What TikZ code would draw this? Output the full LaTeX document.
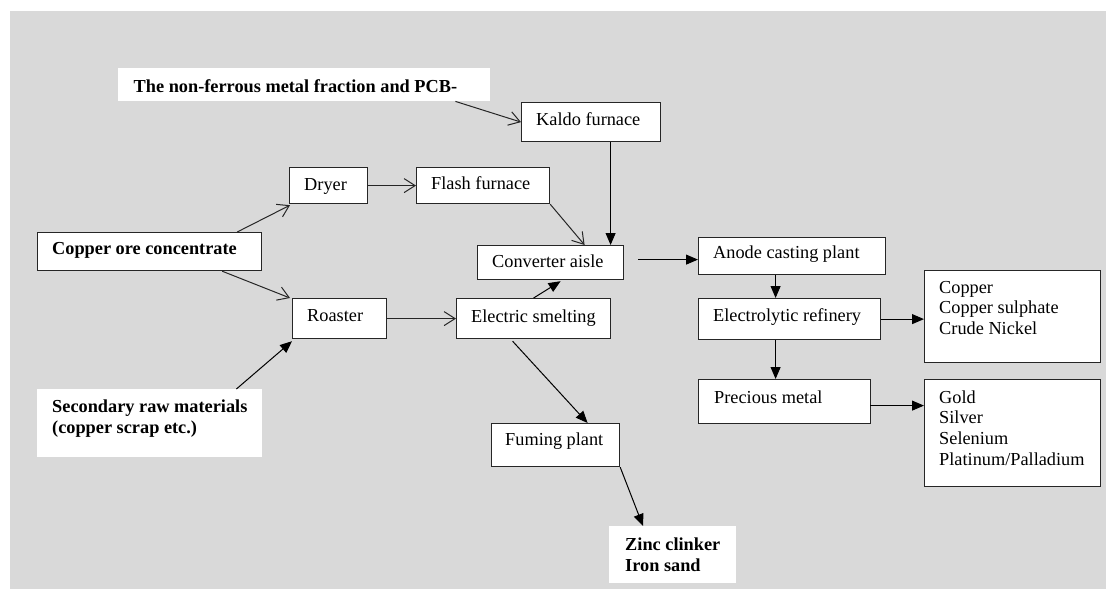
\documentclass[tikz,border=0pt]{standalone}
\usepackage{fontspec}
\setmainfont{Liberation Serif}
\usetikzlibrary{arrows.meta,calc}
\definecolor{panel}{HTML}{D9D9D9}
\definecolor{edge}{HTML}{262626}
\tikzset{
  frame/.style={draw=edge, line width=1.2pt, fill=white, inner sep=0pt, anchor=north west},
  plain/.style={fill=white, inner sep=0pt, anchor=north west},
  txt/.style={inner sep=0pt, anchor=base west, align=left, text=black,
    font=\fontsize{18.3}{20.6}\selectfont},
  btxt/.style={txt, font=\fontsize{18.3}{20.2}\selectfont\bfseries},
  flow/.style={draw=edge, line width=1pt, -{Straight Barb[length=11pt,width=14pt]}},
  feed/.style={draw=black, line width=1pt, -{Triangle[length=12pt,width=10pt]}},
}
\begin{document}
\begin{tikzpicture}[x=1pt, y=-1pt]
  \useasboundingbox (0,0) rectangle (1106,589);
  \fill[panel] (10,11) rectangle (1106,589);

  % ---- inputs (the base of a multi-line label is its last line) ----
  \node[plain, minimum width=372pt, minimum height=33pt] (nf) at (118,68) {};
  \node[btxt] (nf-t) at ($(nf.north west)+(15.5,24)$) {The non-ferrous metal fraction and PCB-};

  \node[frame, minimum width=224pt, minimum height=38pt] (ore) at (37,232) {};
  \node[btxt] (ore-t) at ($(ore.west)+(15,3)$) {Copper ore concentrate};

  \node[plain, minimum width=225pt, minimum height=68pt] (sec) at (37,389) {};
  \node[btxt] (sec-t) at ($(sec.north west)+(15,44)$) {Secondary raw materials\\(copper scrap etc.)};

  % ---- process units ----
  \node[frame, minimum width=139pt, minimum height=39pt] (kaldo) at (521,102) {};
  \node[txt] (kaldo-t) at ($(kaldo.west)+(15,3.5)$) {Kaldo furnace};

  \node[frame, minimum width=78pt, minimum height=36pt] (dryer) at (289,167) {};
  \node[txt] (dryer-t) at ($(dryer.west)+(15,5)$) {Dryer};

  \node[frame, minimum width=133pt, minimum height=36pt] (flash) at (416,167) {};
  \node[txt] (flash-t) at ($(flash.west)+(15,4)$) {Flash furnace};

  \node[frame, minimum width=146pt, minimum height=34pt] (conv) at (477,245) {};
  \node[txt] (conv-t) at ($(conv.west)+(15,5)$) {Converter aisle};

  \node[frame, minimum width=94pt, minimum height=40pt] (roaster) at (292,298) {};
  \node[txt] (roaster-t) at ($(roaster.west)+(15,2.7)$) {Roaster};

  \node[frame, minimum width=154pt, minimum height=40pt] (elec) at (456,298) {};
  \node[txt] (elec-t) at ($(elec.west)+(15,3.7)$) {Electric smelting};

  \node[frame, minimum width=128pt, minimum height=43pt] (fum) at (491,423) {};
  \node[txt] (fum-t) at ($(fum.west)+(14,0.5)$) {Fuming plant};

  \node[plain, minimum width=127pt, minimum height=57pt] (zinc) at (609,526) {};
  \node[btxt] (zinc-t) at ($(zinc.north west)+(16,45)$) {Zinc clinker\\Iron sand};

  \node[frame, minimum width=187pt, minimum height=37pt] (anode) at (698,237) {};
  \node[txt] (anode-t) at ($(anode.west)+(15,2.5)$) {Anode casting plant};

  \node[frame, minimum width=182pt, minimum height=41pt] (refin) at (698,298) {};
  \node[txt] (refin-t) at ($(refin.west)+(15,2.2)$) {Electrolytic refinery};

  \node[frame, minimum width=172pt, minimum height=44pt] (prec) at (698,379) {};
  \node[txt] (prec-t) at ($(prec.west)+(16,2)$) {Precious metal};

  % ---- products ----
  \node[frame, minimum width=176pt, minimum height=92pt] (cuout) at (924,270) {};
  \node[txt] (cuout-t) at ($(cuout.north west)+(15,64.5)$) {Copper\\Copper sulphate\\Crude Nickel};

  \node[frame, minimum width=176pt, minimum height=107pt] (auout) at (924,379) {};
  \node[txt] (auout-t) at ($(auout.north west)+(15,86)$) {Gold\\Silver\\Selenium\\Platinum/Palladium};

  % ---- connector end points ----
  \coordinate (k1) at ($(kaldo.south)+(19.5,0)$);
  \coordinate (a1) at ($(anode.south)+(-16.5,0)$);
  \coordinate (r1) at ($(refin.south)+(-14,0)$);
  \coordinate (p1) at ($(prec.east)+(-1,4)$);

  % ---- connectors ----
  \draw[flow] ($(nf.south east)+(-35,0)$) -- (kaldo.west);
  \draw[feed] (k1) -- (k1 |- conv.north);
  \draw[flow] (flash.south east) -- ($(conv.north)+(34,0)$);
  \draw[flow] (dryer.east) -- (flash.west);
  \draw[flow] ($(ore.north east)+(-25,0)$) -- ($(dryer.south west)+(1,1)$);
  \draw[flow] ($(ore.south east)+(-40,0)$) -- ($(roaster.north west)+(-2,0)$);
  \draw[feed] ($(sec.north east)+(-26,0)$) -- ($(roaster.south west)+(0,2)$);
  \draw[flow] (roaster.east) -- (elec.west);
  \draw[feed] (elec.north) -- ($(conv.south)+(10,1)$);
  \draw[feed] ($(conv.east)+(14,-3)$) -- ($(anode.west)+(0,3.5)$);
  \draw[feed] ($(elec.south)+(-21,2)$) -- ($(fum.north)+(32,0)$);
  \draw[feed] (fum.south east) -- ($(zinc.north west)+(34,0)$);
  \draw[feed] (a1) -- (a1 |- refin.north);
  \draw[feed] (r1) -- (r1 |- prec.north);
  \draw[feed] (refin.east) -- (refin.east -| cuout.west);
  \draw[feed] (p1) -- (p1 -| auout.west);
\end{tikzpicture}
\end{document}
